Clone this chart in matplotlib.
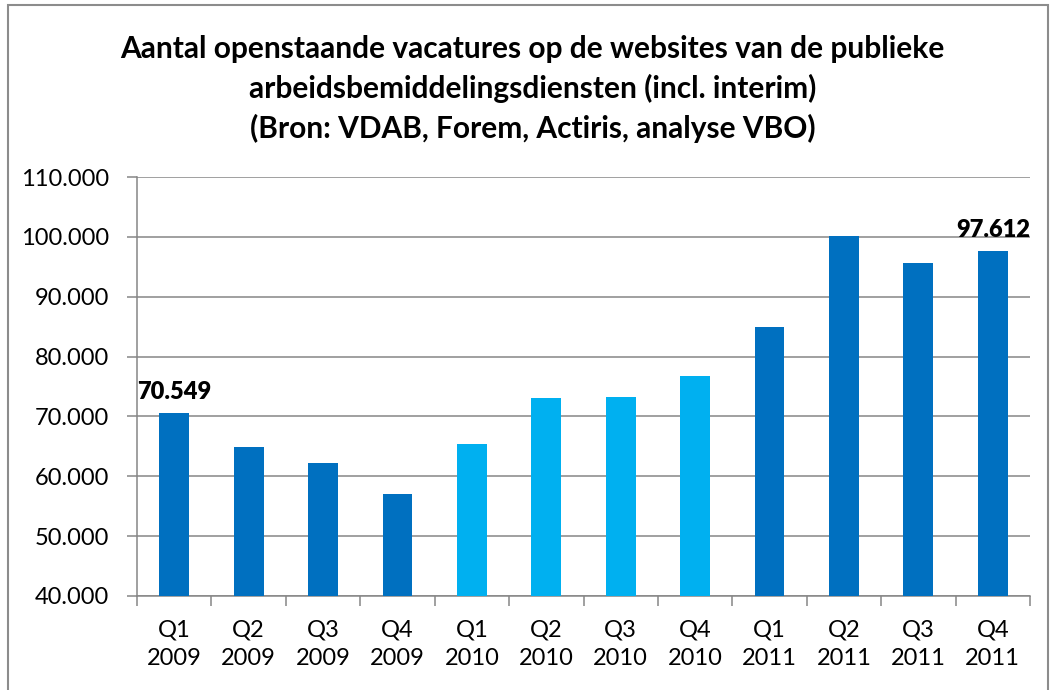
import matplotlib.pyplot as plt
from matplotlib.patches import Rectangle

plt.rcParams['font.family'] = ['Lato', 'DejaVu Sans']

# Data
quarters = ["Q1\n2009", "Q2\n2009", "Q3\n2009", "Q4\n2009",
            "Q1\n2010", "Q2\n2010", "Q3\n2010", "Q4\n2010",
            "Q1\n2011", "Q2\n2011", "Q3\n2011", "Q4\n2011"]
vacatures = [70549, 64900, 62200, 57000,
             65400, 73100, 73200, 76800,
             84900, 100100, 95700, 97612]
years = [2009] * 4 + [2010] * 4 + [2011] * 4

dark = "#0070C0"
light = "#00B0F0"
colors = [light if y == 2010 else dark for y in years]

fig = plt.figure(figsize=(10.55, 6.9), dpi=100)
ax = fig.add_axes([137 / 1055, 1 - 596 / 690, (1030 - 137) / 1055, (596 - 177) / 690])

x = list(range(len(quarters)))
ax.bar(x, vacatures, width=0.4, color=colors, zorder=3)

ax.set_ylim(40000, 110000)
ax.set_xlim(-0.5, len(quarters) - 0.5)
ax.set_yticks(range(40000, 110001, 10000))
ax.set_yticklabels([f"{v:,}".replace(",", ".") for v in range(40000, 110001, 10000)],
                   fontsize=17)
ax.yaxis.grid(True, color="#868686", linewidth=1.1, zorder=0)

ax.set_xticks(x)
ax.set_xticklabels(quarters, fontsize=17, linespacing=1.45)
ax.set_xticks([i - 0.5 for i in range(len(quarters) + 1)], minor=True)
ax.tick_params(axis="x", which="major", length=0, pad=17)
ax.tick_params(axis="x", which="minor", length=7, color="#868686", width=1.1)
ax.tick_params(axis="y", length=7, color="#868686", width=1.1, pad=13)

for side in ["top", "right"]:
    ax.spines[side].set_visible(False)
for side in ["left", "bottom"]:
    ax.spines[side].set_color("#868686")
    ax.spines[side].set_linewidth(1.1)

# labels on first and last bar
for i in [0, len(quarters) - 1]:
    ax.annotate(f"{vacatures[i]:,}".replace(",", "."), (x[i], vacatures[i]),
                xytext=(0, 7), textcoords="offset points", ha="center", va="bottom",
                fontsize=17, fontweight="heavy")

fig.text(0.505, 1 - 89 / 690,
         "Aantal openstaande vacatures op de websites van de publieke\n"
         "arbeidsbemiddelingsdiensten (incl. interim)\n"
         "(Bron: VDAB, Forem, Actiris, analyse VBO)",
         ha="center", va="center", fontsize=21.5, fontweight="bold", linespacing=1.45)

# outer chart frame
fig.patches.append(Rectangle((8 / 1055, -0.01), (1048 - 8) / 1055, 1 - 5 / 690 + 0.01,
                             transform=fig.transFigure, fill=False,
                             edgecolor="#8c8c8c", linewidth=1.5))

fig.savefig("out.png", dpi=100)
